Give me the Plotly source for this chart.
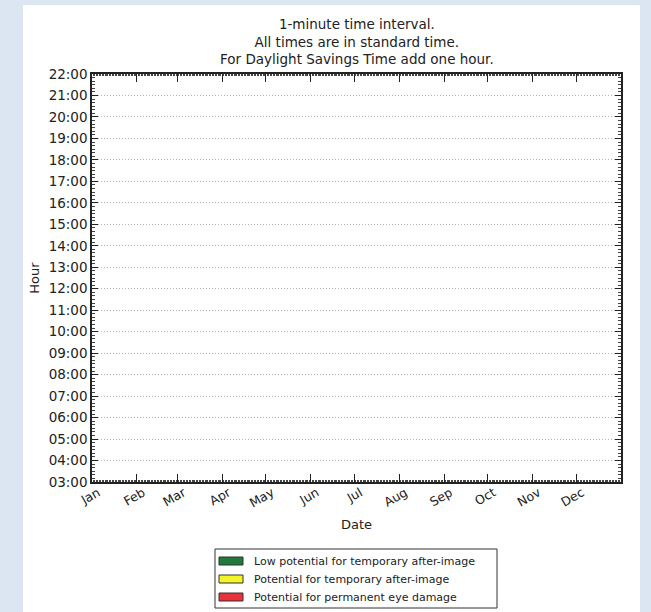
import plotly.graph_objects as go

# Axis extents and labels
hours = list(range(3, 23))
hour_labels = [f"{h:02d}:00" for h in hours]
month_starts = [f"2014-{m:02d}-01" for m in range(1, 13)]
month_labels = ["Jan", "Feb", "Mar", "Apr", "May", "Jun",
                "Jul", "Aug", "Sep", "Oct", "Nov", "Dec"]
date_start = "2014-01-01"
date_end = "2015-01-01"

title_lines = [
    "1-minute time interval.",
    "All times are in standard time.",
    "For Daylight Savings Time add one hour.",
]

legend_labels = [
    "Low potential for temporary after-image",
    "Potential for temporary after-image",
    "Potential for permanent eye damage",
]
legend_colors = ["#1f7a3c", "#f4f42a", "#e8313a"]

W, H = 651, 612
L, R, T, B = 92, 621, 74, 482

fig = go.Figure()
# invisible trace so the date axis is initialised
fig.add_trace(go.Scatter(x=[date_start, date_end], y=[None, None],
                         mode="lines", showlegend=False, hoverinfo="skip"))

axis_font = dict(family="DejaVu Sans", size=13, color="#222222")

fig.update_layout(
    width=W, height=H,
    margin=dict(l=L, r=W - R, t=T, b=H - B, autoexpand=False),
    paper_bgcolor="#dce6f2",
    plot_bgcolor="white",
    showlegend=False,
    font=axis_font,
)

fig.update_xaxes(
    type="date", range=[date_start, date_end],
    tickvals=month_starts, ticktext=month_labels, tickangle=-30,
    ticklabelshift=6, ticklabelstandoff=-3,
    ticks="inside", ticklen=8, tickcolor="#222222", tickwidth=1,
    minor=dict(dtick=86400000, tick0=date_start, ticks="inside", ticklen=2,
               tickcolor="#444444", showgrid=False),
    showgrid=False, zeroline=False,
    showline=True, linecolor="#222222", linewidth=1.5, mirror="ticks",
    title=dict(text="Date", font=dict(size=13), standoff=10),
    tickfont=dict(size=12.5),
)

fig.update_yaxes(
    range=[3, 22], tickvals=hours, ticktext=hour_labels,
    ticks="inside", ticklen=6, tickcolor="#222222", tickwidth=1,
    minor=dict(dtick=1 / 6, tick0=3, ticks="inside", ticklen=3,
               tickcolor="#444444", showgrid=False),
    showgrid=True, gridcolor="#b4b4b4", griddash="1px,2px", gridwidth=1,
    zeroline=False,
    showline=True, linecolor="#222222", linewidth=1.5, mirror="ticks",
    title=dict(text="Hour", font=dict(size=13), standoff=6),
    tickfont=dict(size=13.5),
)

# white page behind the figure
fig.add_shape(type="rect", xref="paper", yref="paper", layer="below",
              x0=(23 - L) / (R - L), x1=(640 - L) / (R - L),
              y0=(B - H) / (B - T), y1=(B - 5) / (B - T),
              fillcolor="white", line_width=0)


def px(x):
    return (x - L) / (R - L)


def py(y):
    return (B - y) / (B - T)


fig.add_annotation(
    text="<br>".join(title_lines), xref="paper", yref="paper",
    x=0.5, y=py(69), yanchor="bottom", showarrow=False,
    font=dict(size=13.5, color="#222222"), align="center",
)

# legend box with colour patches
fig.add_shape(type="rect", xref="paper", yref="paper",
              x0=px(215), x1=px(497), y0=py(608), y1=py(549),
              line=dict(color="#333333", width=1), fillcolor="white")
row_y = [561, 579, 597]
for lab, col, yy in zip(legend_labels, legend_colors, row_y):
    fig.add_shape(type="rect", xref="paper", yref="paper",
                  x0=px(219), x1=px(243), y0=py(yy + 4), y1=py(yy - 4),
                  line=dict(color="#333333", width=1), fillcolor=col)
    fig.add_annotation(text=lab, xref="paper", yref="paper",
                       x=px(252), y=py(yy), xanchor="left", yanchor="middle",
                       showarrow=False, font=dict(size=11, color="#222222"))

fig.write_html("out.html")
